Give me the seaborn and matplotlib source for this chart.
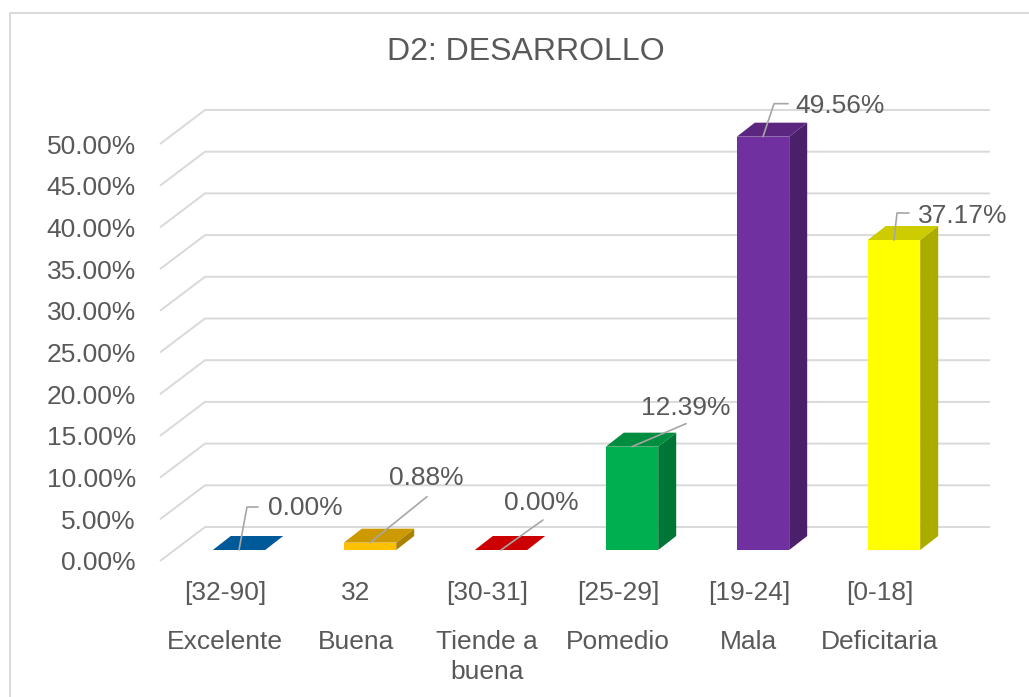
import matplotlib
matplotlib.use("Agg")
from matplotlib import pyplot as plt
from matplotlib.patches import Polygon
from matplotlib.lines import Line2D
from matplotlib.transforms import ScaledTranslation
import matplotlib.colors as mcolors
import pandas as pd
import seaborn as sns
import numpy as np

# data
rangos = ["[32-90]", "32", "[30-31]", "[25-29]", "[19-24]", "[0-18]"]
niveles = ["Excelente", "Buena", "Tiende a\nbuena", "Pomedio", "Mala", "Deficitaria"]
porcentajes = [0.00, 0.88, 0.00, 12.39, 49.56, 37.17]
colores = ["#0070C0", "#FFC000", "#FF0000", "#00B050", "#7030A0", "#FFFF00"]
y_ticks = [0, 5, 10, 15, 20, 25, 30, 35, 40, 45, 50]

# leader line / label offsets in pixels (x right, y up) from the bar top
leaders = [[(8, 43), (19, 43)], [(57, 46)], [(42, 30)], [(54, 23)],
           [(11, 33), (25, 33)], [(3, 27), (15, 27)]]
etiquetas = [(29, 42, "left"), (56, 65, "center"), (40, 47, "center"),
             (54, 39, "center"), (32, 31, "left"), (24, 24, "left")]

TXT = "#595959"
GRID = "#D9D9D9"
W, H = 1029, 697
PX_X = 131.0   # pixels per category
PX_Y = 8.34    # pixels per percent

sns.set_theme(style="white")
plt.rcParams["font.family"] = ["Liberation Sans", "DejaVu Sans"]

df = pd.DataFrame({"rango": rangos, "valor": porcentajes})

fig = plt.figure(figsize=(W / 100, H / 100), dpi=100)
fig.patch.set_facecolor("white")
ax = fig.add_axes([173.5 / W, (H - 550) / H, 786 / W, 417 / H])

# front faces
sns.barplot(data=df, x="rango", y="valor", hue="rango", palette=colores,
            width=0.4, legend=False, ax=ax, saturation=1, zorder=3,
            linewidth=0)

ax.set_xlim(-0.5, 5.5)
ax.set_ylim(0, 50)
ax.set_xlabel("")
ax.set_ylabel("")
for s in ax.spines.values():
    s.set_visible(False)

# back wall gridlines + side diagonals
for v in y_ticks:
    xb0, xb1, xf = (205 - 239) / PX_X, (990 - 239) / PX_X, (160 - 239) / PX_X
    yb, yf = v + 23 / PX_Y, v - 11 / PX_Y
    ax.plot([xf, xb0, xb1], [yf, yb, yb], color=GRID, lw=1.4,
            clip_on=False, zorder=0, solid_capstyle="butt")

# top and side faces
bw = 0.4
ddx, ddy = 18 / PX_X, 14 / PX_Y
for i, (v, c) in enumerate(zip(porcentajes, colores)):
    rgb = np.array(mcolors.to_rgb(c))
    top = Polygon([(i - bw / 2, v), (i + bw / 2, v), (i + bw / 2 + ddx, v + ddy),
                   (i - bw / 2 + ddx, v + ddy)], closed=True,
                  facecolor=rgb * 0.8, edgecolor="none", zorder=2, clip_on=False)
    side = Polygon([(i + bw / 2, 0), (i + bw / 2, v), (i + bw / 2 + ddx, v + ddy),
                    (i + bw / 2 + ddx, ddy)], closed=True,
                   facecolor=rgb * 0.67, edgecolor="none", zorder=2, clip_on=False)
    ax.add_patch(side)
    ax.add_patch(top)

# data labels with leader lines (drawn in pixels from the bar top)
for i, v in enumerate(porcentajes):
    bx, by = ax.transData.transform((i, v))
    pts = [(bx, by)] + [(bx + dx, by + dy) for dx, dy in leaders[i]]
    xs, ys = zip(*pts)
    fig.add_artist(Line2D(xs, ys, color="#A6A6A6", lw=1.2, transform=None, zorder=5))
    tx, ty, ha = etiquetas[i]
    fig.text((bx + tx) / W, (by + ty) / H, f"{v:.2f}%", ha=ha, va="center",
             fontsize=19, color=TXT)

ax.set_yticks(y_ticks)
ax.set_yticklabels([f"{t:.2f}%" for t in y_ticks], fontsize=19, color=TXT)
ax.tick_params(axis="y", length=0, pad=(173.5 - 136) * 0.72)
for lab in ax.get_yticklabels():
    lab.set_transform(lab.get_transform() + ScaledTranslation(0, -11 / 100, fig.dpi_scale_trans))

ax.set_xticks(range(len(rangos)))
ax.set_xticklabels(rangos, fontsize=19, color=TXT)
ax.tick_params(axis="x", length=0, pad=22.5)
for lab in ax.get_xticklabels():
    lab.set_transform(lab.get_transform() + ScaledTranslation(-14 / 100, 0, fig.dpi_scale_trans))

# category names, one text per line
for i, nombre in enumerate(niveles):
    x_disp = ax.transData.transform((i, 0))[0] - 14
    for k, linea in enumerate(nombre.split("\n")):
        fig.text(x_disp / W, (H - 649 - 30 * k) / H, linea, ha="center",
                 va="baseline", fontsize=19, color=TXT)

fig.text(526 / W, 1 - 52 / H, "D2: DESARROLLO", ha="center", va="center",
         fontsize=23, color=TXT)

# chart area border
fig.add_artist(Line2D([10 / W, 10 / W, 1.0], [0, 1 - 13 / H, 1 - 13 / H],
                      transform=fig.transFigure, color=GRID, lw=1.4))

fig.savefig("out.png", dpi=100)
